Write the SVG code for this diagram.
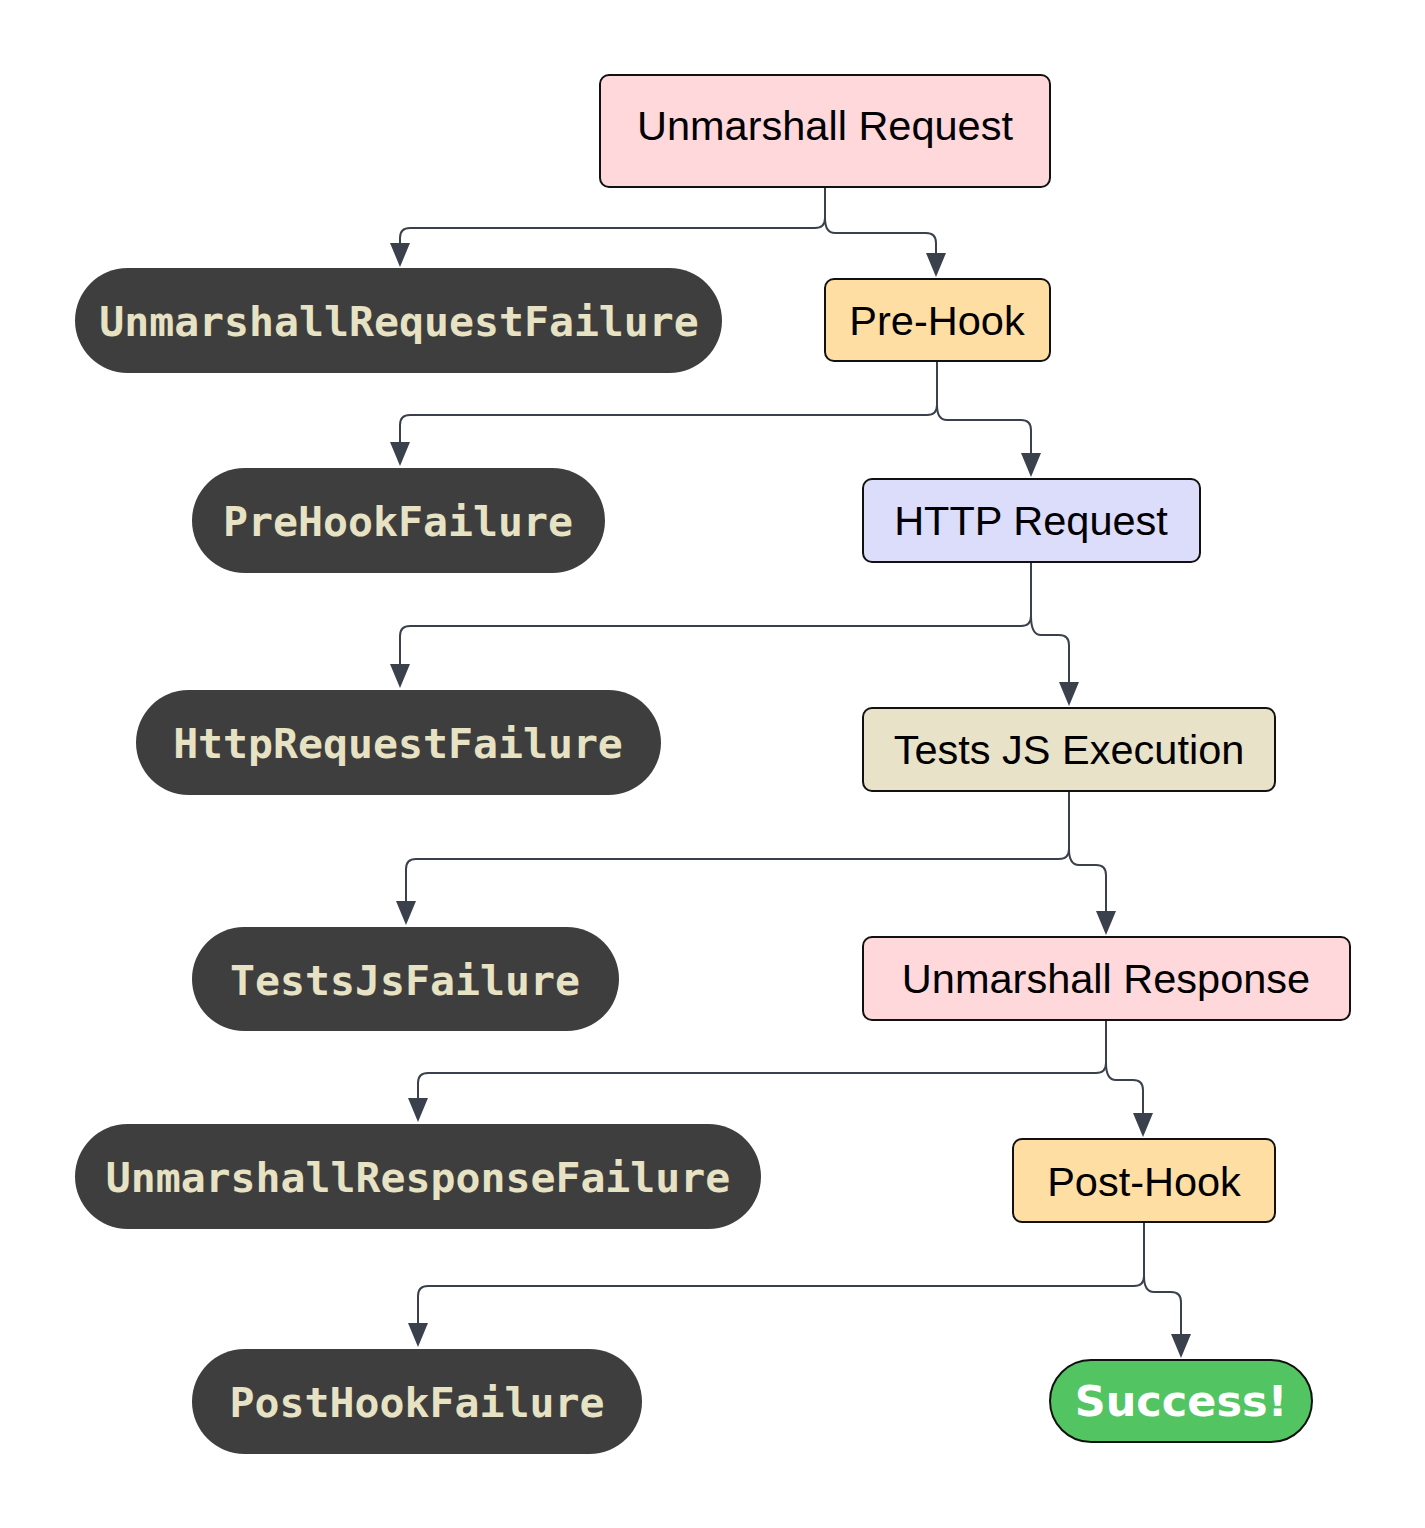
<svg xmlns="http://www.w3.org/2000/svg" width="1425" height="1528" viewBox="0 0 1425 1528">
<style>
.box{stroke:#111;stroke-width:2}
.lbl{font-family:"Liberation Sans",Arial,sans-serif;font-size:41.5px;fill:#000;text-anchor:middle}
.pill{fill:#3e3e3e}
.mono{font-family:"DejaVu Sans Mono","Liberation Mono",monospace;font-weight:bold;font-size:41.5px;fill:#e6e2c3;text-anchor:middle}
.edge{fill:none;stroke:#3b414c;stroke-width:2}
</style>
<defs>
<marker id="arr" viewBox="0 0 24 20" refX="0" refY="10" markerWidth="24" markerHeight="20" markerUnits="userSpaceOnUse" orient="auto">
<path d="M0 0 L24 10 L0 20 z" fill="#3b414c"/>
</marker>
</defs>
<rect width="1425" height="1528" fill="#fff"/>
<g id="connectors">
<path class="edge" marker-end="url(#arr)" d="M825 187 V218 Q825 228 815 228 H410 Q400 228 400 238 V243"/>
<path class="edge" marker-end="url(#arr)" d="M825 218 Q825 233 835 233 H926 Q936 233 936 243 V253"/>
<path class="edge" marker-end="url(#arr)" d="M937 361 V405 Q937 415 927 415 H410 Q400 415 400 425 V442"/>
<path class="edge" marker-end="url(#arr)" d="M937 405 Q937 420 947 420 H1021 Q1031 420 1031 430 V453"/>
<path class="edge" marker-end="url(#arr)" d="M1031 562 V616 Q1031 626 1021 626 H410 Q400 626 400 636 V664"/>
<path class="edge" marker-end="url(#arr)" d="M1031 616 Q1031 635 1041 635 H1059 Q1069 635 1069 645 V682"/>
<path class="edge" marker-end="url(#arr)" d="M1069 791 V849 Q1069 859 1059 859 H416 Q406 859 406 869 V901"/>
<path class="edge" marker-end="url(#arr)" d="M1069 849 Q1069 865 1079 865 H1096 Q1106 865 1106 875 V911"/>
<path class="edge" marker-end="url(#arr)" d="M1106 1020 V1063 Q1106 1073 1096 1073 H428 Q418 1073 418 1083 V1098"/>
<path class="edge" marker-end="url(#arr)" d="M1106 1063 Q1106 1080 1116 1080 H1133 Q1143 1080 1143 1090 V1113"/>
<path class="edge" marker-end="url(#arr)" d="M1144 1222 V1276 Q1144 1286 1134 1286 H428 Q418 1286 418 1296 V1323"/>
<path class="edge" marker-end="url(#arr)" d="M1144 1276 Q1144 1292 1154 1292 H1171 Q1181 1292 1181 1302 V1334"/>
</g>
<g id="unmarshall-request">
<rect class="box" x="600" y="75" width="450" height="112" rx="9" fill="#ffd8db"/>
<text class="lbl" x="825" y="140">Unmarshall Request</text>
</g>
<g id="unmarshall-request-failure">
<rect class="pill" x="75" y="268" width="647" height="105" rx="52.5"/>
<text class="mono" x="399" y="336">UnmarshallRequestFailure</text>
</g>
<g id="pre-hook">
<rect class="box" x="825" y="279" width="225" height="82" rx="9" fill="#ffdea4"/>
<text class="lbl" x="937" y="335">Pre-Hook</text>
</g>
<g id="pre-hook-failure">
<rect class="pill" x="192" y="468" width="413" height="105" rx="52.5"/>
<text class="mono" x="398" y="536">PreHookFailure</text>
</g>
<g id="http-request">
<rect class="box" x="863" y="479" width="337" height="83" rx="9" fill="#dcdcfb"/>
<text class="lbl" x="1031" y="535">HTTP Request</text>
</g>
<g id="http-request-failure">
<rect class="pill" x="136" y="690" width="525" height="105" rx="52.5"/>
<text class="mono" x="398" y="758">HttpRequestFailure</text>
</g>
<g id="tests-js-execution">
<rect class="box" x="863" y="708" width="412" height="83" rx="9" fill="#e8e2c8"/>
<text class="lbl" x="1069" y="764">Tests JS Execution</text>
</g>
<g id="tests-js-failure">
<rect class="pill" x="192" y="927" width="427" height="104" rx="52"/>
<text class="mono" x="405" y="995">TestsJsFailure</text>
</g>
<g id="unmarshall-response">
<rect class="box" x="863" y="937" width="487" height="83" rx="9" fill="#ffd8db"/>
<text class="lbl" x="1106" y="993">Unmarshall Response</text>
</g>
<g id="unmarshall-response-failure">
<rect class="pill" x="75" y="1124" width="686" height="105" rx="52.5"/>
<text class="mono" x="418" y="1192">UnmarshallResponseFailure</text>
</g>
<g id="post-hook">
<rect class="box" x="1013" y="1139" width="262" height="83" rx="9" fill="#ffdea4"/>
<text class="lbl" x="1144" y="1196">Post-Hook</text>
</g>
<g id="post-hook-failure">
<rect class="pill" x="192" y="1349" width="450" height="105" rx="52.5"/>
<text class="mono" x="417" y="1417">PostHookFailure</text>
</g>
<g id="success">
<rect x="1050" y="1360" width="262" height="82" rx="41" fill="#52c462" stroke="#111" stroke-width="2"/>
<text x="1181" y="1416" font-family="DejaVu Sans,sans-serif" font-weight="bold" font-size="43" fill="#fff" text-anchor="middle">Success!</text>
</g>
</svg>
